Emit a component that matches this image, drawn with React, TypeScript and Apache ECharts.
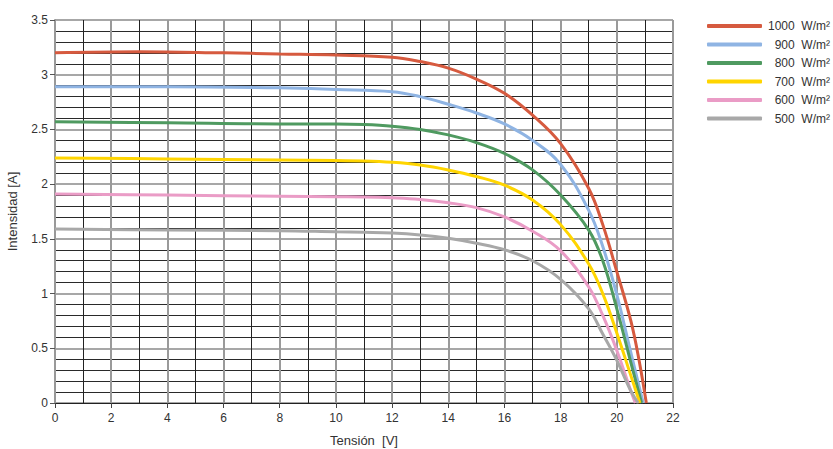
import React, { useEffect, useRef } from "react";
import * as echarts from "echarts";

const xTicks = [0, 2, 4, 6, 8, 10, 12, 14, 16, 18, 20, 22];
const seriesNames = ["1000  W/m²", "900  W/m²", "800  W/m²", "700  W/m²", "600  W/m²", "500  W/m²"];
const seriesColors = ["#d65a3f", "#8fb4e3", "#4f9a60", "#ffd500", "#ea9cc6", "#a8a8a8"];

const v1000 = [0, 3, 6, 8, 10, 12, 13, 14, 15, 16, 17, 18, 19, 19.5, 20, 20.5, 20.8, 21.05];
const i1000 = [3.2, 3.21, 3.2, 3.19, 3.18, 3.16, 3.12, 3.06, 2.96, 2.83, 2.63, 2.37, 1.96, 1.63, 1.2, 0.75, 0.38, 0];

const v900 = [0, 4, 8, 10, 12, 13, 14, 15, 16, 17, 18, 19, 19.5, 20, 20.5, 20.94];
const i900 = [2.89, 2.89, 2.88, 2.865, 2.845, 2.8, 2.73, 2.65, 2.55, 2.4, 2.18, 1.76, 1.43, 0.99, 0.46, 0];

const v800 = [0, 4, 8, 10, 11, 12, 13, 14, 15, 16, 17, 18, 19, 19.5, 20, 20.5, 20.88];
const i800 = [2.57, 2.56, 2.55, 2.55, 2.545, 2.53, 2.5, 2.45, 2.38, 2.28, 2.13, 1.9, 1.58, 1.3, 0.86, 0.37, 0];

const v700 = [0, 4, 8, 10, 11, 12, 13, 14, 15, 16, 17, 18, 19, 19.5, 20, 20.5, 20.82];
const i700 = [2.24, 2.23, 2.22, 2.215, 2.212, 2.2, 2.175, 2.13, 2.07, 1.99, 1.855, 1.63, 1.27, 1.0, 0.64, 0.25, 0];

const v600 = [0, 4, 8, 10, 11, 12, 13, 14, 15, 16, 17, 18, 19, 19.5, 20, 20.5, 20.66];
const i600 = [1.91, 1.9, 1.89, 1.885, 1.883, 1.875, 1.86, 1.83, 1.785, 1.7, 1.57, 1.39, 1.06, 0.8, 0.48, 0.11, 0];

const v500 = [0, 4, 8, 10, 11, 12, 13, 14, 15, 16, 17, 18, 19, 19.5, 20, 20.5, 20.76];
const i500 = [1.59, 1.58, 1.575, 1.565, 1.56, 1.553, 1.535, 1.505, 1.46, 1.4, 1.3, 1.13, 0.86, 0.63, 0.39, 0.11, 0];

const voltages = [v1000, v900, v800, v700, v600, v500];
const currents = [i1000, i900, i800, i700, i600, i500];

const FONT = "Liberation Sans, Arial, sans-serif";

export default function App() {
  const ref = useRef<HTMLDivElement>(null);

  useEffect(() => {
    if (!ref.current) return;
    const chart = echarts.init(ref.current, null, { renderer: "svg" });

    const series = seriesNames.map((name, k) => ({
      name,
      type: "line",
      smooth: 0.4,
      showSymbol: false,
      symbol: "none",
      lineStyle: { width: 3, color: seriesColors[k] },
      itemStyle: { color: seriesColors[k] },
      data: voltages[k].map((v, j) => [v, currents[k][j]]),
      z: 2,
    }));

    chart.setOption({
      animation: false,
      backgroundColor: "#ffffff",
      textStyle: { fontFamily: FONT },
      grid: { left: 55, right: 160, top: 20, bottom: 46, containLabel: false, outerBoundsMode: "none" },
      legend: {
        orient: "vertical",
        left: 707,
        top: 20,
        padding: 0,
        itemWidth: 55,
        itemHeight: 4,
        itemGap: 6.5,
        icon: "roundRect",
        data: seriesNames,
        formatter: (name: string) => `{n|${name}}`,
        textStyle: {
          fontFamily: FONT,
          rich: {
            n: { width: 63, align: "right", fontSize: 12, color: "#333", fontFamily: FONT },
          },
        },
      },
      xAxis: {
        type: "value",
        min: 0,
        max: 22,
        interval: 2,
        name: "Tensión  [V]",
        nameLocation: "middle",
        nameGap: 31,
        nameTextStyle: { fontSize: 13, color: "#333", fontFamily: FONT },
        axisLine: { show: true, onZero: false, lineStyle: { color: "#222", width: 1 } },
        axisTick: { show: true, length: 5, lineStyle: { color: "#444" } },
        axisLabel: {
          fontSize: 12,
          color: "#333",
          margin: 9,
          fontFamily: FONT,
          formatter: (v: number) => (xTicks.includes(v) ? String(v) : ""),
        },
        splitLine: { show: true, lineStyle: { color: "#9a9a9a", width: 2 } },
        minorTick: { show: false, splitNumber: 2 },
        minorSplitLine: { show: true, lineStyle: { color: "#222", width: 1 } },
      },
      yAxis: {
        type: "value",
        min: 0,
        max: 3.5,
        interval: 0.5,
        name: "Intensidad [A]",
        nameLocation: "middle",
        nameGap: 36,
        nameTextStyle: { fontSize: 13, color: "#333", fontFamily: FONT },
        axisLine: { show: true, onZero: false, lineStyle: { color: "#999", width: 2 } },
        axisTick: { show: true, length: 5, lineStyle: { color: "#555" } },
        axisLabel: { fontSize: 12, color: "#333", margin: 7, fontFamily: FONT },
        splitLine: { show: true, lineStyle: { color: "#8a8a8a", width: 1.5 } },
        minorTick: { show: false, splitNumber: 5 },
        minorSplitLine: { show: true, lineStyle: { color: "#2a2a2a", width: 1 } },
      },
      series,
    });

    return () => chart.dispose();
  }, []);

  return (
    <div
      ref={ref}
      style={{ position: "fixed", left: 0, top: 0, width: 833, height: 449, background: "#fff" }}
    />
  );
}
